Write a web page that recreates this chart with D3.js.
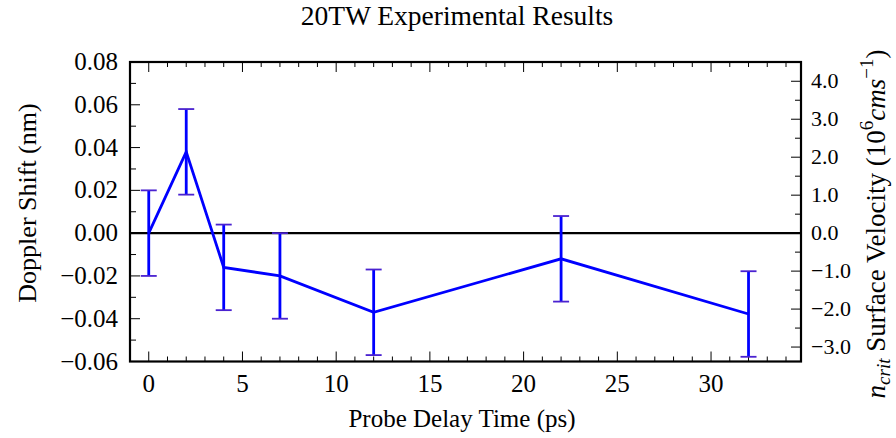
<!DOCTYPE html>
<html>
<head>
<meta charset="utf-8">
<script src="https://cdn.jsdelivr.net/npm/d3@7"></script>
<style>
  body { margin: 0; background: #fff; }
  text { font-family: "Liberation Serif", "DejaVu Serif", serif; fill: #000; }
</style>
</head>
<body>
<div id="chart"></div>
<script>
// delay times (ps), doppler shift (nm) and its error
var delays = [0, 2, 4, 7, 12, 22, 32];
var shifts = [0.0, 0.038, -0.016, -0.020, -0.037, -0.012, -0.0378];
var errors = [0.020, 0.020, 0.020, 0.020, 0.020, 0.020, 0.020];

var xTicks = [0, 5, 10, 15, 20, 25, 30];
var yTicks = [-0.06, -0.04, -0.02, 0.0, 0.02, 0.04, 0.06, 0.08];
var vTicks = [-3, -2, -1, 0, 1, 2, 3, 4];

var W = 896, H = 438;
var m = {left: 130, right: 95, top: 62, bottom: 76.5};

var svg = d3.select("#chart").append("svg").attr("width", W).attr("height", H);

var x = d3.scaleLinear().domain([-1, 34.8]).range([m.left, W - m.right]);
var y = d3.scaleLinear().domain([-0.06, 0.08]).range([H - m.bottom, m.top]);
// right axis is the same range, 1.0 unit = 0.01775 nm
var k = 0.01775;
var y2 = d3.scaleLinear().domain([-0.06 / k, 0.08 / k]).range([H - m.bottom, m.top]);

var x0 = m.left, x1 = W - m.right, yb = H - m.bottom, yt = m.top;

function fmtLeft(d){ return d3.format(".2f")(d).replace("-", "\u2212"); }

// ticks (inward)
var g = svg.append("g").attr("stroke", "#000").attr("stroke-width", 1);
d3.range(-1, 35, 1).forEach(function(v){
  var major = v % 5 == 0, len = major ? 10 : 5;
  g.append("line").attr("x1", x(v)).attr("x2", x(v)).attr("y1", yb).attr("y2", yb - len);
  g.append("line").attr("x1", x(v)).attr("x2", x(v)).attr("y1", yt).attr("y2", yt + len);
});
d3.range(-6, 9, 1).forEach(function(i){
  var v = i / 100, major = i % 2 == 0;
  g.append("line").attr("x1", x0).attr("x2", x0 + (major ? 10 : 6)).attr("y1", y(v)).attr("y2", y(v));
});
d3.range(-6, 9, 1).forEach(function(i){
  var v = i / 2, major = i % 2 == 0;
  if (y2(v) < yt || y2(v) > yb) return;
  g.append("line").attr("x1", x1).attr("x2", x1 - (major ? 10 : 6)).attr("y1", y2(v)).attr("y2", y2(v));
});

// tick labels
svg.append("g").selectAll("text").data(xTicks).enter().append("text")
  .attr("x", function(d){ return x(d); }).attr("y", yb + 30)
  .attr("text-anchor", "middle").attr("font-size", 25).text(function(d){ return d; });
svg.append("g").selectAll("text").data(yTicks).enter().append("text")
  .attr("x", x0 - 12).attr("y", function(d){ return y(d) + 8; })
  .attr("text-anchor", "end").attr("font-size", 25).text(fmtLeft);
svg.append("g").selectAll("text").data(vTicks).enter().append("text")
  .attr("x", x1 + 10).attr("y", function(d){ return y2(d) + 7; })
  .attr("text-anchor", "start").attr("font-size", 22).text(function(d){ return d3.format(".1f")(d); });

// zero line
svg.append("line").attr("x1", x0).attr("x2", x1).attr("y1", y(0)).attr("y2", y(0))
  .attr("stroke", "#000").attr("stroke-width", 2.2);

// error bars
var eb = svg.append("g");
delays.forEach(function(d, i){
  var lo = shifts[i] - errors[i], hi = shifts[i] + errors[i];
  eb.append("line").attr("x1", x(d)).attr("x2", x(d)).attr("y1", y(lo)).attr("y2", y(hi))
    .attr("stroke", "#0000ff").attr("stroke-width", 2.8);
  [lo, hi].forEach(function(v){
    eb.append("line").attr("x1", x(d) - 8).attr("x2", x(d) + 8).attr("y1", y(v)).attr("y2", y(v))
      .attr("stroke", "#4a22d0").attr("stroke-width", 1.8);
  });
});

// data line
var line = d3.line().x(function(d){ return x(d[0]); }).y(function(d){ return y(d[1]); });
svg.append("path").datum(d3.zip(delays, shifts)).attr("d", line)
  .attr("fill", "none").attr("stroke", "#0000ff").attr("stroke-width", 2.8).attr("stroke-linejoin", "miter");

// frame
svg.append("rect").attr("x", x0).attr("y", yt).attr("width", x1 - x0).attr("height", yb - yt)
  .attr("fill", "none").attr("stroke", "#000").attr("stroke-width", 2.2);

// titles
svg.append("text").attr("x", 457).attr("y", 25).attr("text-anchor", "middle")
  .attr("font-size", 27.5).text("20TW Experimental Results");
svg.append("text").attr("x", 462).attr("y", 427).attr("text-anchor", "middle")
  .attr("font-size", 25).text("Probe Delay Time (ps)");
svg.append("text").attr("transform", "translate(36,203) rotate(-90)")
  .attr("text-anchor", "middle").attr("font-size", 26).text("Doppler Shift (nm)");

var rl = svg.append("text").attr("transform", "translate(885,224) rotate(-90)")
  .attr("text-anchor", "middle").attr("font-size", 27);
rl.append("tspan").attr("font-style", "italic").text("n");
rl.append("tspan").attr("font-style", "italic").attr("font-size", 19).attr("dy", 5).text("crit");
rl.append("tspan").attr("dy", -5).text(" Surface Velocity (10");
rl.append("tspan").attr("font-size", 19).attr("dy", -12).text("6");
rl.append("tspan").attr("font-style", "italic").attr("dy", 12).text("cms");
rl.append("tspan").attr("font-size", 19).attr("dy", -12).text("\u22121");
rl.append("tspan").attr("dy", 12).text(")");
</script>
</body>
</html>
